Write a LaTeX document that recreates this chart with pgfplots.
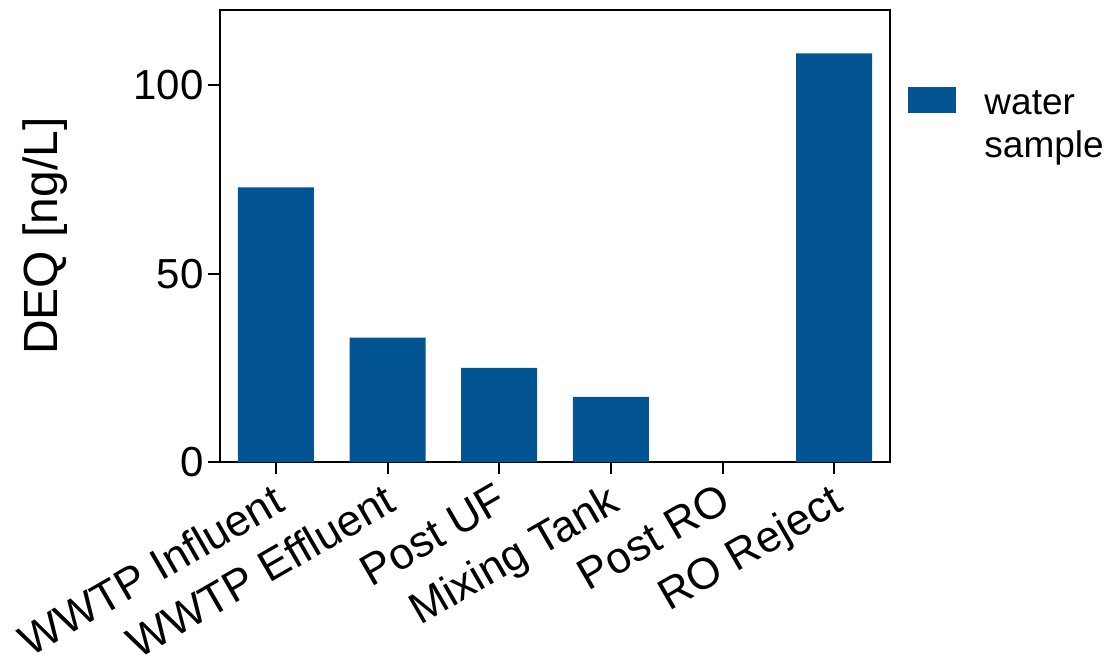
\documentclass[border=0pt]{standalone}
\usepackage{pgfplots}
\pgfplotsset{compat=1.18}
\usepackage{fontspec}
\setmainfont{Liberation Sans}
\definecolor{barblue}{RGB}{2,84,147}
\begin{document}
\begin{tikzpicture}
\begin{axis}[
  scale only axis,
  width=335pt, height=226pt,
  xmin=-0.5, xmax=5.5, ymin=0, ymax=120,
  xtick={0,1,2,3,4,5},
  xticklabels={WWTP Influent, WWTP Effluent, Post UF, Mixing Tank, Post RO, RO Reject},
  ytick={0,50,100},
  tick align=outside,
  major tick length=6pt,
  tick style={black, line width=1pt},
  axis line style={line width=1pt},
  xtick pos=bottom, ytick pos=left,
  /pgf/number format/assume math mode=true,
  yticklabel style={font=\fontsize{21}{21}\selectfont, inner sep=2pt},
  xticklabel style={font=\fontsize{22}{22}\selectfont, rotate=30, anchor=north east, inner sep=2pt, xshift=-2pt},
  ylabel={DEQ [ng/L]},
  ylabel style={font=\fontsize{24}{24}\selectfont, at={(rel axis cs:-0.261,0.5)}, anchor=center},
  legend style={at={(1.027,0.836)}, anchor=north west, draw=none, fill=none, inner sep=0pt,
    font=\fontsize{18.5}{21.5}\selectfont,
    /tikz/every odd column/.append style={column sep=14pt},
    nodes={inner sep=0pt}},
  legend image code/.code={\fill[barblue] (0pt,-6pt) rectangle (24pt,7pt);},
]
\addplot[ybar, bar width=38pt, fill=barblue, draw=none]
  coordinates {(0,72.9) (1,33.0) (2,25.0) (3,17.3) (4,0) (5,108.5)};
\addlegendentry{\begin{tabular}[t]{@{}l@{}}water\\sample\end{tabular}}
\end{axis}
\path (current axis.north west) ++(0,5pt);
\path (current axis.west) ++(-110pt,0);
\path (current axis.east) ++(108.5pt,0);
\path (current axis.south) ++(0,-97.5pt);
\end{tikzpicture}
\end{document}
